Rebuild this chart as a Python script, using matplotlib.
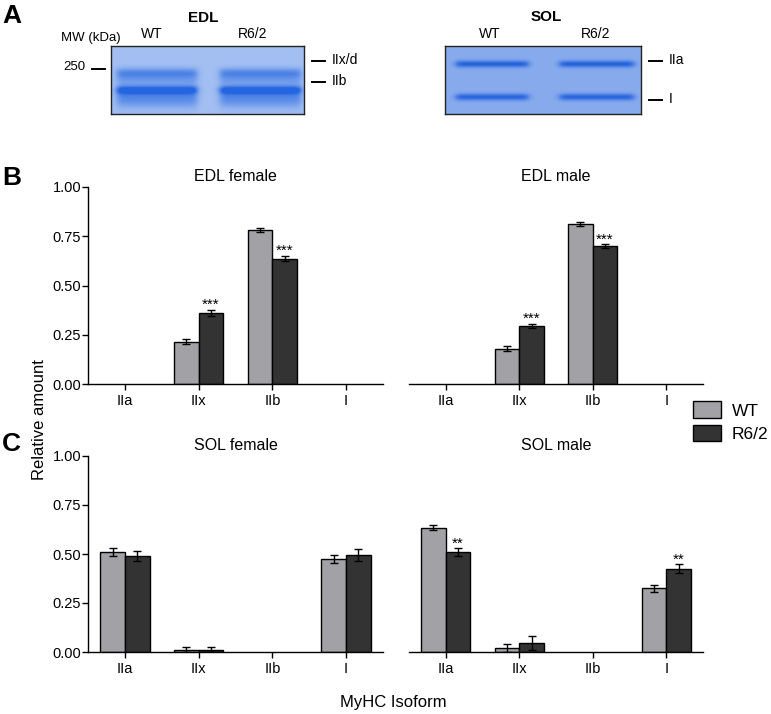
import matplotlib.pyplot as plt
import numpy as np

plt.rcParams['font.family'] = ['Liberation Sans', 'DejaVu Sans']

W, H = 771, 714

isoforms = ["IIa", "IIx", "IIb", "I"]
groups = ["WT", "R6/2"]
colors = ["#a2a2a6", "#333333"]

# relative amount per isoform (IIa, IIx, IIb, I); 0 = not detected
edl_female_wt = [0, 0.215, 0.782, 0]
edl_female_wt_err = [0, 0.012, 0.012, 0]
edl_female_r62 = [0, 0.362, 0.637, 0]
edl_female_r62_err = [0, 0.015, 0.015, 0]
edl_female_sig = ["", "***", "***", ""]

edl_male_wt = [0, 0.180, 0.812, 0]
edl_male_wt_err = [0, 0.012, 0.012, 0]
edl_male_r62 = [0, 0.295, 0.700, 0]
edl_male_r62_err = [0, 0.010, 0.010, 0]
edl_male_sig = ["", "***", "***", ""]

sol_female_wt = [0.510, 0.012, 0, 0.475]
sol_female_wt_err = [0.022, 0.012, 0, 0.020]
sol_female_r62 = [0.490, 0.012, 0, 0.495]
sol_female_r62_err = [0.025, 0.014, 0, 0.030]
sol_female_sig = ["", "", "", ""]

sol_male_wt = [0.635, 0.020, 0, 0.325]
sol_male_wt_err = [0.012, 0.020, 0, 0.018]
sol_male_r62 = [0.510, 0.045, 0, 0.425]
sol_male_r62_err = [0.020, 0.035, 0, 0.022]
sol_male_sig = ["**", "", "", "**"]

# gel panels (pixel units inside each gel box): lanes (x0, x1), bands (y, sigma, strength)
edl_gel_size = (193, 68)
edl_lanes = [(6, 86), (109, 190)]
edl_bands = [(27, 3.5, 0.6), (34, 4.0, 0.35), (44, 3.0, 1.0), (52, 6.5, 0.6)]
edl_colors = ([0.64, 0.75, 0.95], [0.14, 0.40, 0.88])
sol_gel_size = (196, 68)
sol_lanes = [(11, 83), (114, 188)]
sol_bands = [(18, 2.4, 1.0), (51, 2.4, 0.95)]
sol_colors = ([0.53, 0.67, 0.93], [0.14, 0.38, 0.87])


def fx(px):
    return px / W


def fy(py):
    return 1 - py / H


def gel_image(size, lanes, bands, cols):
    w, h = size
    xs = np.arange(w) + 0.5
    ys = np.arange(h) + 0.5
    lane = np.zeros(w)
    for x0, x1 in lanes:
        lane = np.maximum(lane, 1 / (1 + np.exp(-(xs - x0) / 2)) / (1 + np.exp((xs - x1) / 2)))
    prof = np.zeros(h)
    for yc, s, a in bands:
        prof += a * np.exp(-0.5 * ((ys - yc) / s) ** 2)
    inten = np.clip(prof[:, None] * lane[None, :], 0, 1)
    bg = np.array(cols[0])
    band = np.array(cols[1])
    img = bg + inten[..., None] * (band - bg)
    return np.clip(img, 0, 1)


def draw_gel(fig, left, top, size, lanes, bands, cols):
    w, h = size
    ax = fig.add_axes([fx(left), fy(top + h), w / W, h / H])
    ax.imshow(gel_image(size, lanes, bands, cols), aspect="auto", extent=(0, w, h, 0))
    ax.set_xticks([])
    ax.set_yticks([])
    for s in ax.spines.values():
        s.set_linewidth(1.0)
        s.set_color("#222222")
    return ax


def bar_panel(ax, title, wt, wt_err, r62, r62_err, sig, show_y):
    x = np.arange(len(isoforms))
    bw = 0.335
    for vals, errs, off, c in [(wt, wt_err, -bw / 2, colors[0]), (r62, r62_err, bw / 2, colors[1])]:
        vals = np.array(vals)
        errs = np.array(errs)
        keep = vals > 0
        ax.bar(x[keep] + off, vals[keep], bw, color=c, edgecolor="black", linewidth=1.0, zorder=2)
        ax.errorbar(x[keep] + off, vals[keep], yerr=errs[keep], fmt="none", ecolor="black",
                    elinewidth=1.0, capsize=3, capthick=1.0, zorder=3)
    for i, s in enumerate(sig):
        if s:
            ax.text(x[i] + bw / 2, r62[i] + r62_err[i] + 0.004, s, ha="center", va="baseline", fontsize=11)
    ax.set_xlim(-0.5, 3.5)
    ax.set_ylim(0, 1)
    ax.set_xticks(x)
    ax.set_xticklabels(isoforms, fontsize=10.5)
    ax.tick_params(axis="x", length=4, width=1, direction="out", pad=3)
    ax.spines["top"].set_visible(False)
    ax.spines["right"].set_visible(False)
    ax.spines["bottom"].set_linewidth(1.0)
    if show_y:
        ax.set_yticks([0, 0.25, 0.5, 0.75, 1.0])
        ax.set_yticklabels(["0.00", "0.25", "0.50", "0.75", "1.00"], fontsize=10.5)
        ax.tick_params(axis="y", length=4, width=1, pad=1)
        ax.spines["left"].set_linewidth(1.0)
    else:
        ax.spines["left"].set_visible(False)
        ax.set_yticks([])
    ax.set_title(title, fontsize=11.5, pad=4)


def main():
    fig = plt.figure(figsize=(W / 100, H / 100), dpi=100)

    # panel A: gels
    draw_gel(fig, 111, 46, edl_gel_size, edl_lanes, edl_bands, edl_colors)
    draw_gel(fig, 445, 46, sol_gel_size, sol_lanes, sol_bands, sol_colors)
    fig.text(fx(203), fy(18), "EDL", ha="center", va="center", fontsize=11, fontweight="bold")
    fig.text(fx(546), fy(17), "SOL", ha="center", va="center", fontsize=11, fontweight="bold")
    fig.text(fx(91), fy(38), "MW (kDa)", ha="center", va="center", fontsize=9.5)
    for x, lab in [(152, "WT"), (253, "R6/2"), (490, "WT"), (596, "R6/2")]:
        fig.text(fx(x), fy(34), lab, ha="center", va="center", fontsize=10)
    fig.text(fx(85), fy(67), "250", ha="right", va="center", fontsize=9.5)
    fig.add_artist(plt.Line2D([fx(92), fx(105)], [fy(69), fy(69)], color="black", lw=1.4))
    for x0, y, lab in [(312, 61, "IIx/d"), (312, 82, "IIb"), (649, 61, "IIa"), (649, 100, "I")]:
        fig.add_artist(plt.Line2D([fx(x0), fx(x0 + 13)], [fy(y), fy(y)], color="black", lw=1.4))
        fig.text(fx(x0 + 20), fy(y - 1), lab, ha="left", va="center", fontsize=10)

    # panels B and C: bar charts
    ax_bl = fig.add_axes([fx(88), fy(384), 295 / W, 197 / H])
    ax_br = fig.add_axes([fx(409), fy(384), 294 / W, 197 / H])
    ax_cl = fig.add_axes([fx(88), fy(652), 295 / W, 196 / H])
    ax_cr = fig.add_axes([fx(409), fy(652), 294 / W, 196 / H])
    bar_panel(ax_bl, "EDL female", edl_female_wt, edl_female_wt_err, edl_female_r62, edl_female_r62_err,
              edl_female_sig, True)
    bar_panel(ax_br, "EDL male", edl_male_wt, edl_male_wt_err, edl_male_r62, edl_male_r62_err,
              edl_male_sig, False)
    bar_panel(ax_cl, "SOL female", sol_female_wt, sol_female_wt_err, sol_female_r62, sol_female_r62_err,
              sol_female_sig, True)
    bar_panel(ax_cr, "SOL male", sol_male_wt, sol_male_wt_err, sol_male_r62, sol_male_r62_err,
              sol_male_sig, False)

    fig.text(fx(40), fy(420), "Relative amount", rotation=90, ha="center", va="center", fontsize=12)
    fig.text(fx(393), fy(702), "MyHC Isoform", ha="center", va="center", fontsize=12)

    for lab, y in [("A", 16), ("B", 178), ("C", 444)]:
        fig.text(fx(2), fy(y), lab, ha="left", va="center", fontsize=19, fontweight="bold")

    handles = [plt.Rectangle((0, 0), 1, 1, facecolor=c, edgecolor="black", linewidth=1.0) for c in colors]
    fig.legend(handles, groups, loc="upper left", bbox_to_anchor=(fx(690), fy(398)), frameon=False,
               fontsize=12.5, handlelength=1.6, handleheight=1.1, handletextpad=0.6, labelspacing=0.35,
               borderaxespad=0, borderpad=0.2)

    fig.savefig("out.png", dpi=100)


if __name__ == "__main__":
    main()
